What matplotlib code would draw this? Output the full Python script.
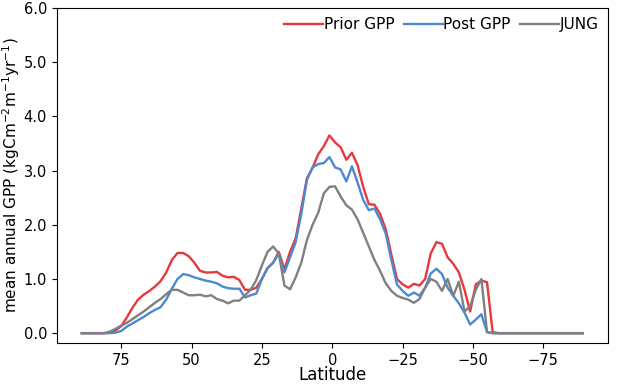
import numpy as np
import matplotlib
matplotlib.use("Agg")
import matplotlib.pyplot as plt
from matplotlib.ticker import FormatStrFormatter

# latitude bands, north to south (2 degree steps)
lat = np.arange(89, -90, -2)

prior_gpp = [0, 0, 0, 0, 0, 0.01, 0.05, 0.13, 0.29, 0.47,
             0.62, 0.71, 0.78, 0.86, 0.96, 1.12, 1.35, 1.48, 1.48, 1.42,
             1.30, 1.15, 1.12, 1.12, 1.13, 1.06, 1.03, 1.04, 0.98, 0.80,
             0.80, 0.84, 1.00, 1.20, 1.30, 1.50, 1.18, 1.50, 1.75, 2.30,
             2.86, 3.05, 3.30, 3.45, 3.65, 3.52, 3.43, 3.20, 3.33, 3.10,
             2.70, 2.38, 2.37, 2.20, 1.92, 1.45, 1.00, 0.90, 0.84, 0.91,
             0.88, 1.00, 1.47, 1.68, 1.65, 1.40, 1.28, 1.12, 0.80, 0.40,
             0.90, 0.97, 0.94, 0.02, 0, 0, 0, 0, 0, 0,
             0, 0, 0, 0, 0, 0, 0, 0, 0, 0]

post_gpp = [0, 0, 0, 0, 0, 0, 0.01, 0.04, 0.12, 0.18,
            0.24, 0.30, 0.37, 0.43, 0.48, 0.62, 0.82, 1.00, 1.09, 1.07,
            1.03, 1.00, 0.97, 0.95, 0.92, 0.86, 0.83, 0.82, 0.82, 0.66,
            0.70, 0.73, 1.00, 1.20, 1.30, 1.47, 1.12, 1.40, 1.68, 2.20,
            2.83, 3.06, 3.12, 3.14, 3.25, 3.06, 3.02, 2.80, 3.08, 2.78,
            2.46, 2.27, 2.30, 2.10, 1.84, 1.35, 0.90, 0.78, 0.69, 0.75,
            0.69, 0.84, 1.10, 1.19, 1.09, 0.84, 0.69, 0.55, 0.38, 0.16,
            0.25, 0.35, 0.02, 0, 0, 0, 0, 0, 0, 0,
            0, 0, 0, 0, 0, 0, 0, 0, 0, 0]

jung_gpp = [0, 0, 0, 0, 0, 0.03, 0.08, 0.14, 0.19, 0.26,
            0.33, 0.40, 0.48, 0.56, 0.63, 0.72, 0.80, 0.80, 0.75, 0.70,
            0.70, 0.71, 0.68, 0.70, 0.63, 0.60, 0.55, 0.60, 0.60, 0.70,
            0.80, 0.98, 1.25, 1.50, 1.60, 1.47, 0.88, 0.81, 1.03, 1.30,
            1.72, 2.00, 2.22, 2.58, 2.70, 2.71, 2.52, 2.36, 2.28, 2.10,
            1.85, 1.60, 1.35, 1.15, 0.92, 0.78, 0.69, 0.65, 0.62, 0.56,
            0.63, 0.84, 1.00, 0.95, 0.78, 1.00, 0.69, 0.95, 0.40, 0.50,
            0.80, 1.00, 0.02, 0, 0, 0, 0, 0, 0, 0,
            0, 0, 0, 0, 0, 0, 0, 0, 0, 0]

fig = plt.figure(figsize=(6.17, 3.84), dpi=100)
ax = fig.add_axes([0.092, 0.107, 0.893, 0.872])

ax.plot(lat, prior_gpp, color="#e8383d", lw=1.7, label="Prior GPP")
ax.plot(lat, post_gpp, color="#4a8ad2", lw=1.7, label="Post GPP")
ax.plot(lat, jung_gpp, color="#808080", lw=1.7, label="JUNG")

ax.set_xlim(97.9, -97.9)
ax.set_ylim(-0.18, 6.0)
ax.set_xticks([75, 50, 25, 0, -25, -50, -75])
ax.set_yticks(np.arange(0, 7, 1))
ax.yaxis.set_major_formatter(FormatStrFormatter("%.1f"))
ax.tick_params(labelsize=10.5)

ax.set_xlabel("Latitude", fontsize=12, labelpad=-1)
ax.set_ylabel("mean annual GPP (kgCm$^{-2}$m$^{-1}$yr$^{-1}$)", fontsize=11)
ax.yaxis.set_label_coords(-0.064, 0.5)

ax.legend(loc="upper right", ncol=3, frameon=False, fontsize=11,
          handlelength=2.55, handletextpad=0.05, columnspacing=0.6,
          borderaxespad=0.2)

fig.savefig("out.png", dpi=100)
